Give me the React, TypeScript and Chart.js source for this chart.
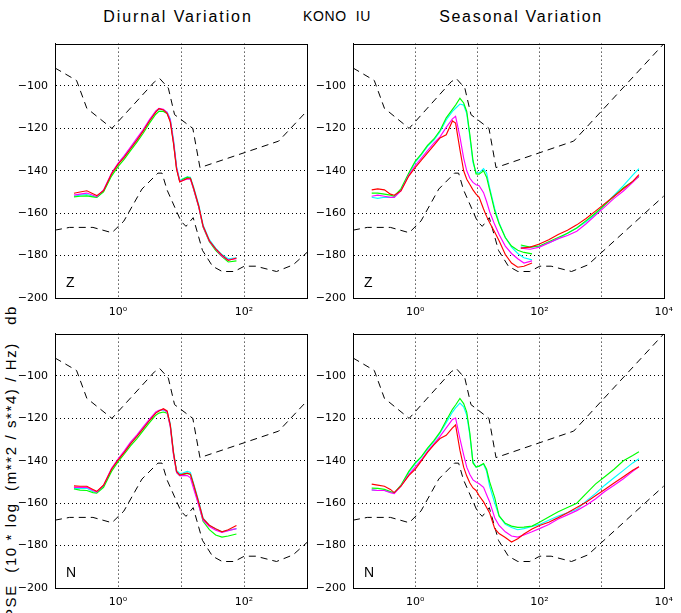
import React, { useEffect, useRef } from 'react';
import { Chart, registerables } from 'chart.js';

Chart.register(...registerables);

// ---- Period grids (seconds) ----
const periodsShort = [0.2, 0.25, 0.32, 0.4, 0.46, 0.59, 0.79, 1.0, 1.26, 1.58, 2.0, 2.51, 3.16, 3.98, 4.47, 5.25, 6.03, 6.76, 7.59, 8.51, 9.55, 10.7, 12.6, 14.1, 15.8, 19.1, 22.4, 28.2, 35.5, 44.7, 56.2, 75.9];
const periodsLong = [50.1, 70.8, 100, 141, 200, 282, 398, 562, 794, 1122, 1585, 2239, 3162, 3981];
const periodsSeasonalN = [0.2, 0.25, 0.32, 0.4, 0.46, 0.59, 0.79, 1.0, 1.26, 1.58, 2.0, 2.51, 3.16, 3.98, 4.47, 5.25, 6.03, 6.76, 7.59, 8.51, 9.55, 10.7, 12.6, 14.1, 15.8, 19.1, 22.4, 28.2, 35.5, 44.7, 56.2, 75.9, 100, 141, 200, 282, 398, 562, 794, 1122, 1585, 2239, 3162, 3981];

// ---- Noise models (breakpoints) ----
const nlnmPeriods = [0.1, 0.17, 0.4, 0.8, 1.24, 2.4, 4.3, 5.0, 6.0, 10, 12, 15.6, 21.9, 31.6, 45, 70, 101, 154, 328, 600, 10000];
const nlnmDb = [-168.0, -166.7, -166.7, -169.2, -163.7, -148.6, -141.1, -141.1, -149.0, -163.8, -166.2, -162.1, -177.5, -185.0, -187.5, -187.5, -185.0, -185.0, -187.5, -184.4, -151.9];
const nhnmPeriods = [0.1, 0.22, 0.32, 0.8, 3.8, 4.6, 6.3, 7.9, 15.4, 20, 354.8, 10000];
const nhnmDb = [-91.5, -97.4, -110.5, -120.0, -98.0, -96.5, -101.0, -113.5, -120.0, -138.5, -126.0, -80.1];

// ---- Diurnal Z ----
const diurnalZRed = [-150.6, -150.0, -149.4, -150.8, -151.7, -149.4, -141.5, -137.0, -133.5, -129.6, -125.5, -121.3, -116.5, -112.3, -110.7, -111.3, -113.0, -117.0, -127.0, -139.3, -145.3, -144.6, -143.5, -143.5, -148.0, -156.6, -166.0, -173.0, -176.8, -179.8, -182.3, -181.1];
const diurnalZMagenta = [-151.5, -151.0, -150.5, -151.5, -152.2, -149.0, -141.0, -136.5, -132.8, -128.8, -124.6, -120.5, -115.8, -111.8, -110.5, -111.0, -112.5, -116.0, -126.0, -138.5, -145.0, -144.5, -143.8, -144.0, -148.5, -157.0, -166.3, -173.2, -177.0, -180.3, -182.0, -181.5];
const diurnalZCyan = [-152.0, -151.5, -151.2, -152.0, -152.5, -149.5, -141.5, -136.8, -133.0, -129.2, -125.0, -121.0, -116.2, -112.0, -111.0, -111.2, -112.3, -115.5, -125.0, -138.0, -144.5, -143.8, -142.8, -143.0, -147.5, -156.0, -165.5, -172.5, -176.5, -179.5, -181.5, -181.0];
const diurnalZGreen = [-152.3, -152.0, -151.8, -152.3, -152.6, -150.0, -142.5, -138.0, -134.5, -130.5, -126.5, -122.3, -117.5, -113.3, -112.0, -112.0, -113.0, -116.5, -126.5, -139.0, -145.0, -144.0, -143.0, -143.5, -148.5, -157.0, -166.5, -173.5, -177.5, -180.5, -183.0, -182.5];

// ---- Seasonal Z (short-period part) ----
const seasonalZRed = [-149.0, -148.5, -149.0, -151.0, -151.5, -149.5, -142.5, -138.5, -135.0, -131.5, -128.0, -124.5, -123.0, -116.5, -117.5, -130.0, -140.0, -144.0, -146.5, -149.0, -151.0, -152.5, -158.0, -161.5, -164.5, -169.0, -173.0, -179.5, -183.5, -185.5, -185.0, -183.5];
const seasonalZMagenta = [-152.0, -151.5, -152.0, -152.5, -152.5, -149.5, -142.0, -137.5, -134.0, -130.5, -127.0, -124.0, -119.5, -115.5, -114.3, -124.0, -134.0, -140.0, -143.5, -145.5, -146.6, -147.0, -150.3, -154.5, -159.3, -165.5, -170.0, -175.5, -179.0, -181.5, -183.5, -182.5];
const seasonalZCyan = [-152.5, -153.0, -152.5, -152.5, -152.5, -149.0, -141.5, -136.0, -132.5, -128.5, -125.5, -121.5, -116.0, -112.0, -110.5, -108.5, -109.0, -113.0, -124.0, -136.0, -141.0, -141.0, -139.0, -141.0, -148.0, -158.0, -164.5, -171.5, -176.0, -179.0, -181.0, -182.0];
const seasonalZGreen = [-150.5, -150.5, -151.0, -151.5, -152.0, -148.5, -141.0, -135.5, -132.0, -128.0, -125.0, -121.0, -115.0, -111.0, -109.0, -105.8, -108.0, -112.0, -123.0, -135.0, -141.5, -141.6, -140.0, -143.0, -149.0, -159.0, -165.0, -171.5, -175.5, -177.5, -178.5, -179.2];

// ---- Seasonal Z (long-period part) ----
const seasonalZLongRed = [-176.5, -176.0, -174.5, -172.5, -170.0, -168.0, -165.5, -162.5, -159.0, -155.5, -152.0, -148.5, -145.0, -141.8];
const seasonalZLongMagenta = [-176.5, -177.0, -176.0, -174.0, -172.0, -170.5, -168.5, -165.0, -161.0, -157.0, -153.0, -149.5, -145.5, -142.5];
const seasonalZLongCyan = [-176.0, -176.0, -175.5, -174.0, -172.0, -169.5, -167.0, -164.0, -160.5, -156.0, -151.5, -147.0, -142.0, -139.0];
const seasonalZLongGreen = [-175.0, -176.0, -175.5, -173.5, -171.5, -169.5, -167.0, -163.5, -160.0, -156.0, -152.0, -148.0, -145.0, -142.7];

// ---- Diurnal N ----
const diurnalNRed = [-151.8, -152.0, -152.0, -153.5, -154.4, -151.5, -144.0, -139.7, -136.0, -132.0, -128.5, -124.8, -121.0, -117.5, -116.5, -115.4, -116.5, -123.0, -136.0, -145.0, -146.7, -146.3, -145.8, -146.3, -151.0, -159.5, -167.3, -170.4, -172.0, -173.5, -172.5, -170.5];
const diurnalNMagenta = [-152.5, -152.5, -152.5, -154.0, -154.8, -151.5, -143.5, -139.2, -135.3, -131.2, -127.8, -124.0, -120.3, -117.0, -116.2, -115.8, -117.0, -124.0, -137.0, -145.5, -147.0, -147.0, -147.0, -148.0, -153.0, -161.0, -168.0, -171.0, -172.8, -173.8, -173.0, -172.0];
const diurnalNCyan = [-153.0, -153.0, -153.0, -154.5, -155.0, -152.0, -144.0, -139.5, -135.8, -131.8, -128.3, -124.5, -120.8, -117.2, -116.3, -116.0, -116.8, -122.5, -135.5, -144.5, -146.0, -145.8, -145.0, -145.5, -150.5, -159.0, -167.0, -170.5, -172.2, -173.5, -172.8, -172.0];
const diurnalNGreen = [-153.3, -153.8, -154.0, -155.0, -155.3, -152.5, -145.0, -140.5, -136.8, -133.0, -129.5, -125.8, -122.0, -118.5, -117.5, -117.0, -117.5, -123.5, -136.5, -145.5, -147.0, -146.5, -146.0, -146.5, -151.5, -160.5, -168.5, -172.5, -175.0, -176.0, -175.5, -174.5];

// ---- Seasonal N ----
const seasonalNRed = [-151.0, -151.5, -152.0, -153.5, -155.0, -152.0, -147.0, -144.0, -140.0, -136.0, -132.5, -129.5, -128.0, -124.5, -123.1, -135.0, -143.0, -147.2, -150.5, -152.8, -154.0, -156.5, -159.4, -162.0, -164.6, -172.0, -174.3, -176.2, -178.3, -176.8, -174.5, -172.2, -170.5, -169.0, -166.8, -164.5, -162.0, -159.5, -156.5, -153.5, -150.5, -147.5, -144.5, -142.8];
const seasonalNMagenta = [-153.7, -154.0, -154.0, -155.0, -155.5, -152.0, -146.5, -143.0, -139.5, -135.5, -132.0, -128.5, -124.5, -120.5, -119.8, -129.5, -137.2, -143.0, -146.5, -149.0, -150.0, -150.8, -152.5, -156.0, -159.4, -167.0, -170.5, -173.5, -175.5, -176.0, -175.0, -173.5, -172.0, -170.0, -167.5, -165.5, -163.5, -161.0, -158.0, -154.5, -151.5, -148.5, -145.0, -142.8];
const seasonalNCyan = [-153.7, -154.0, -154.0, -154.8, -155.0, -151.8, -145.5, -141.5, -138.2, -134.5, -131.0, -127.0, -122.0, -117.0, -115.0, -112.8, -114.5, -118.5, -128.0, -140.5, -143.0, -142.5, -141.5, -145.0, -152.0, -160.0, -166.0, -170.0, -171.5, -172.5, -172.0, -171.0, -170.0, -168.0, -166.0, -164.5, -163.0, -159.0, -155.5, -151.5, -148.0, -144.5, -141.0, -139.0];
const seasonalNGreen = [-152.9, -153.0, -153.5, -154.5, -155.2, -151.5, -145.0, -141.0, -138.0, -134.0, -130.5, -126.5, -121.0, -115.7, -113.7, -110.6, -113.0, -117.0, -127.0, -141.0, -143.0, -142.5, -141.3, -144.0, -150.0, -157.5, -166.0, -169.5, -170.8, -171.4, -171.3, -170.8, -169.0, -166.5, -164.0, -162.0, -160.0, -155.5, -151.0, -147.5, -144.0, -140.0, -137.5, -135.7];

// ---- Axis ticks / labels ----
const yTicks = [-200, -180, -160, -140, -120, -100, -80];
const xGridDiurnal = [0.1, 1, 10, 100, 1000];
const xGridSeasonal = [0.1, 1, 10, 100, 1000, 10000];
const xTickLabels: Record<string, string> = { '1': '10\u2070', '100': '10\u00B2', '10000': '10\u2074' };

const RED = '#ff0000';
const MAGENTA = '#ff00ff';
const CYAN = '#00ffff';
const GREEN = '#00ff00';

type Series = { x: number[]; y: number[]; color: string; dash?: number[]; width?: number };

const framePlugin = {
  id: 'frame',
  afterDatasetsDraw(chart: any, _args: any, opts: any) {
    const { ctx, chartArea: a } = chart;
    ctx.save();
    ctx.strokeStyle = '#000';
    ctx.lineWidth = 1;
    ctx.setLineDash([]);
    const l = Math.round(a.left) + 0.5;
    const t = Math.round(a.top) + 0.5;
    const r = Math.round(a.right) + 0.5;
    const b = Math.round(a.bottom) + 0.5;
    ctx.strokeRect(l, t, r - l, b - t);
    if (opts && opts.label) {
      ctx.fillStyle = '#000';
      ctx.font = '14px "Liberation Sans", Arial, sans-serif';
      ctx.textBaseline = 'alphabetic';
      ctx.textAlign = 'left';
      ctx.fillText(opts.label, a.left + 11, a.bottom - 11);
    }
    ctx.restore();
  },
};

function modelSeries(): Series[] {
  return [
    { x: nhnmPeriods, y: nhnmDb, color: '#000', dash: [7, 5], width: 1 },
    { x: nlnmPeriods, y: nlnmDb, color: '#000', dash: [7, 5], width: 1 },
  ];
}

interface PanelProps {
  left: number; top: number; width: number; height: number;
  yAxisWidth: number; padTop: number; padRight: number; xAxisHeight: number;
  xMax: number; xGrid: number[]; label: string; series: Series[];
}

function Panel(p: PanelProps) {
  const ref = useRef<HTMLCanvasElement>(null);
  useEffect(() => {
    const tickFont = { family: '"DejaVu Sans", sans-serif', size: 11 };
    const chart = new Chart(ref.current as HTMLCanvasElement, {
      type: 'line',
      data: {
        datasets: p.series.map((s) => ({
          data: s.x.map((x, i) => ({ x, y: s.y[i] })),
          borderColor: s.color,
          borderWidth: s.width ?? 1.15,
          borderDash: s.dash ?? [],
          pointRadius: 0,
          tension: 0,
          fill: false,
        })),
      },
      options: {
        responsive: false,
        animation: false,
        devicePixelRatio: 1,
        events: [],
        layout: { padding: { top: p.padTop, right: p.padRight, left: 0, bottom: 0 } },
        plugins: {
          legend: { display: false },
          tooltip: { enabled: false },
          frame: { label: p.label },
        } as any,
        scales: {
          x: {
            type: 'logarithmic',
            min: 0.1,
            max: p.xMax,
            afterBuildTicks: (s: any) => { s.ticks = p.xGrid.map((v) => ({ value: v })); },
            afterFit: (s: any) => { s.height = p.xAxisHeight; },
            ticks: {
              autoSkip: false,
              maxRotation: 0,
              minRotation: 0,
              padding: 8,
              color: '#000',
              font: tickFont,
              callback: (v: any) => xTickLabels[String(v)] ?? '',
            },
            grid: {
              drawTicks: false,
              lineWidth: 1,
              color: (c: any) => (c.tick && (c.tick.value === 0.1 || c.tick.value === p.xMax) ? 'rgba(0,0,0,0)' : '#000'),
            },
            border: { display: true, color: '#000', width: 1, dash: [1, 3] },
          } as any,
          y: {
            type: 'linear',
            min: -200,
            max: -80,
            afterBuildTicks: (s: any) => { s.ticks = yTicks.map((v) => ({ value: v })); },
            afterFit: (s: any) => { s.width = p.yAxisWidth; },
            ticks: {
              padding: 7,
              color: '#000',
              font: tickFont,
              callback: (v: any) => (v === -80 ? '' : String(v).replace('-', '\u2212')),
            },
            grid: {
              drawTicks: false,
              lineWidth: 1,
              color: (c: any) => (c.tick && (c.tick.value === -200 || c.tick.value === -80) ? 'rgba(0,0,0,0)' : '#000'),
            },
            border: { display: true, color: '#000', width: 1, dash: [1, 3] },
          } as any,
        },
      },
      plugins: [framePlugin],
    });
    return () => chart.destroy();
  }, []);
  return (
    <canvas
      ref={ref}
      width={p.width}
      height={p.height}
      style={{ position: 'absolute', left: p.left, top: p.top, width: p.width, height: p.height }}
    />
  );
}

const colored = (r: number[], m: number[], c: number[], g: number[], x: number[]): Series[] => [
  { x, y: r, color: RED },
  { x, y: m, color: MAGENTA },
  { x, y: g, color: GREEN },
  { x, y: c, color: CYAN },
];

export default function App() {
  const titleFont = '"Liberation Sans", Arial, sans-serif';
  return (
    <div style={{ position: 'absolute', left: 0, top: 0, width: 681, height: 613, background: '#fff', overflow: 'hidden' }}>
      <div style={{ position: 'absolute', left: 78, top: 8, width: 200, textAlign: 'center', font: `16px ${titleFont}`, letterSpacing: '1.9px', color: '#000', whiteSpace: 'pre' }}>
        Diurnal Variation
      </div>
      <div style={{ position: 'absolute', left: 287, top: 8, width: 100, textAlign: 'center', font: `14px ${titleFont}`, letterSpacing: '0.6px', color: '#000', whiteSpace: 'pre' }}>
        {'KONO  IU'}
      </div>
      <div style={{ position: 'absolute', left: 421, top: 8, width: 200, textAlign: 'center', font: `16px ${titleFont}`, letterSpacing: '1.7px', color: '#000', whiteSpace: 'pre' }}>
        Seasonal Variation
      </div>
      <div
        style={{
          position: 'absolute', left: 10, top: 462, transform: 'translate(-50%, -50%) rotate(-90deg)',
          font: `15px ${titleFont}`, letterSpacing: '1.6px', color: '#000', whiteSpace: 'pre', lineHeight: '17px',
        }}
      >
        {'PSE  (10 * log  (m**2 / s**4) / Hz)   db'}
      </div>

      <Panel left={0} top={30} width={330} height={290} yAxisWidth={55} padTop={8} padRight={23} xAxisHeight={22}
        xMax={1000} xGrid={xGridDiurnal} label="Z"
        series={[...colored(diurnalZRed, diurnalZMagenta, diurnalZCyan, diurnalZGreen, periodsShort), ...modelSeries()]} />
      <Panel left={310} top={30} width={371} height={290} yAxisWidth={43} padTop={8} padRight={14} xAxisHeight={22}
        xMax={10000} xGrid={xGridSeasonal} label="Z"
        series={[
          ...colored(seasonalZRed, seasonalZMagenta, seasonalZCyan, seasonalZGreen, periodsShort),
          ...colored(seasonalZLongRed, seasonalZLongMagenta, seasonalZLongCyan, seasonalZLongGreen, periodsLong),
          ...modelSeries(),
        ]} />
      <Panel left={0} top={320} width={330} height={293} yAxisWidth={55} padTop={8} padRight={23} xAxisHeight={25}
        xMax={1000} xGrid={xGridDiurnal} label="N"
        series={[...colored(diurnalNRed, diurnalNMagenta, diurnalNCyan, diurnalNGreen, periodsShort), ...modelSeries()]} />
      <Panel left={310} top={320} width={371} height={293} yAxisWidth={43} padTop={8} padRight={14} xAxisHeight={25}
        xMax={10000} xGrid={xGridSeasonal} label="N"
        series={[...colored(seasonalNRed, seasonalNMagenta, seasonalNCyan, seasonalNGreen, periodsSeasonalN), ...modelSeries()]} />
    </div>
  );
}
